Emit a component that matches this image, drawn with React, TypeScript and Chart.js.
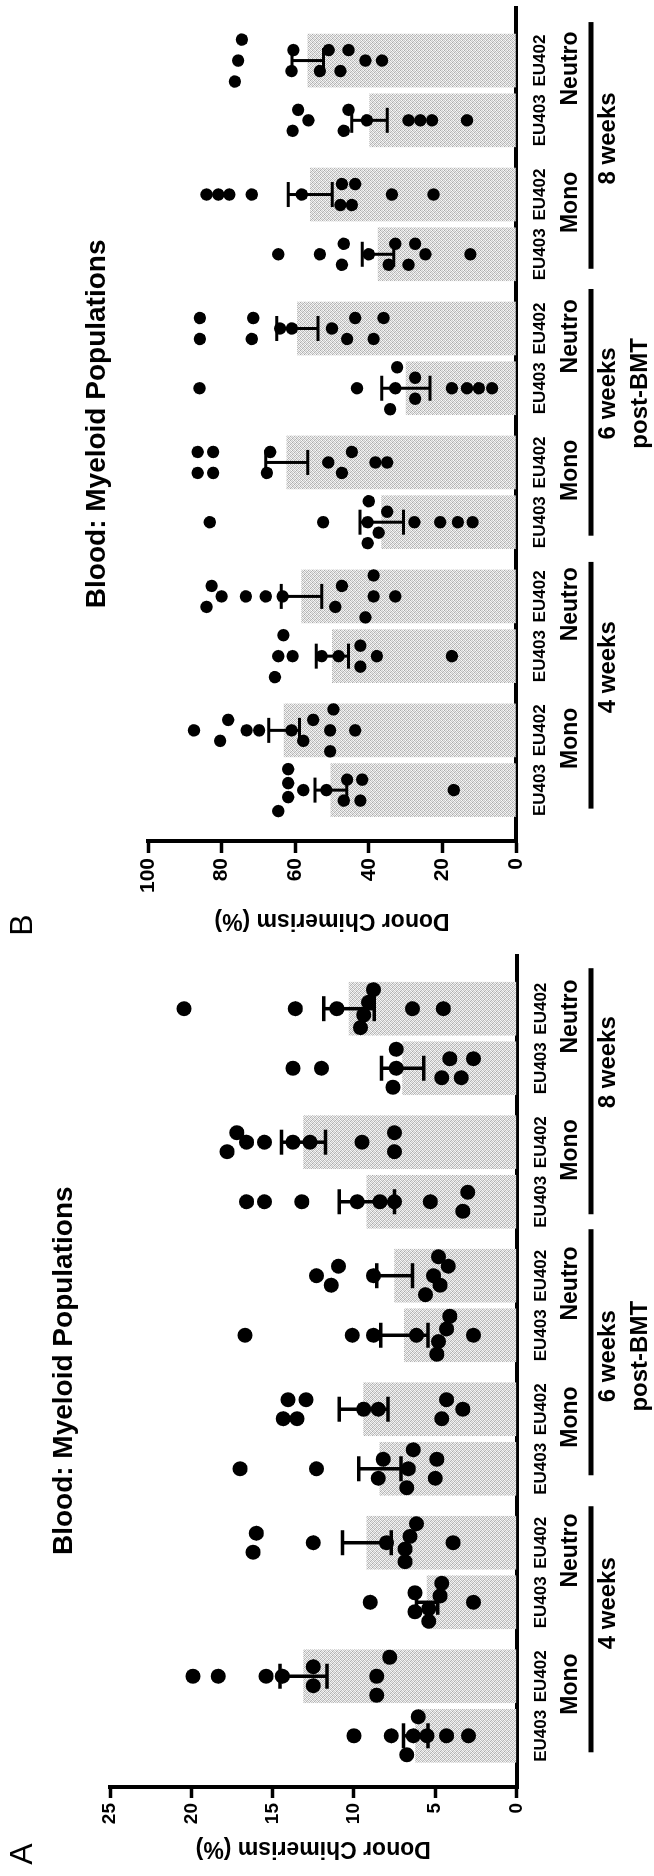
import React, { useEffect, useRef } from 'react';
import { Chart, registerables } from 'chart.js';

Chart.register(...registerables);

const FONT = '"Liberation Sans", Arial, Helvetica, sans-serif';

// ---------- categories & labels ----------
const barLabels = ['EU403', 'EU402', 'EU403', 'EU402', 'EU403', 'EU402', 'EU403', 'EU402', 'EU403', 'EU402', 'EU403', 'EU402'];
const cellLabels = ['Mono', 'Neutro', 'Mono', 'Neutro', 'Mono', 'Neutro'];
const timeLabels = [['4 weeks'], ['6 weeks', 'post-BMT'], ['8 weeks']];
const chartTitle = 'Blood: Myeloid Populations';
const axisTitle = 'Donor Chimerism (%)';

// ---------- panel A data ----------
const aTicks = [0, 5, 10, 15, 20, 25];
const aMeans = [6.2, 13.1, 5.5, 9.2, 8.4, 9.4, 6.9, 7.5, 9.2, 13.1, 7.0, 10.3];
const aSems = [0.75, 1.45, 0.65, 1.5, 1.3, 1.5, 1.45, 1.1, 1.7, 1.35, 1.3, 1.55];
const aPoints = [
  [10.0, 7.7, 6.75, 6.35, 6.05, 5.5, 4.3, 2.95],
  [19.9, 18.35, 15.4, 14.4, 12.5, 12.5, 8.6, 8.6, 7.8],
  [9.0, 6.25, 6.25, 5.4, 5.4, 4.7, 4.6, 2.65],
  [16.2, 16.0, 12.5, 8.0, 6.85, 6.85, 6.55, 6.15, 3.9],
  [17.0, 12.3, 8.5, 8.2, 6.75, 6.65, 6.35, 5.0, 4.9],
  [14.35, 14.05, 13.5, 12.95, 9.4, 8.5, 4.6, 4.3, 3.3],
  [16.7, 10.1, 8.8, 6.15, 4.9, 4.8, 4.3, 4.1, 2.65],
  [12.3, 11.4, 10.95, 8.8, 5.6, 5.1, 4.8, 4.7, 4.2],
  [16.6, 15.5, 13.2, 9.8, 8.4, 7.5, 5.3, 3.3, 3.0],
  [17.8, 17.2, 16.6, 15.5, 13.75, 12.7, 9.5, 7.5, 7.5],
  [13.75, 12.0, 7.6, 7.4, 7.4, 4.6, 4.1, 3.4, 2.65],
  [20.45, 13.6, 11.05, 9.6, 9.4, 9.1, 8.8, 6.4, 4.5],
];

// ---------- panel B data ----------
const bTicks = [0, 20, 40, 60, 80, 100];
const bMeans = [50.3, 63.0, 49.9, 58.3, 36.5, 62.3, 29.9, 59.4, 37.5, 55.9, 39.8, 56.6];
const bSems = [4.3, 4.2, 4.4, 5.5, 5.9, 5.7, 6.55, 5.6, 4.3, 6.0, 4.8, 4.3];
const bPoints = [
  [64.6, 61.9, 61.9, 61.9, 57.8, 51.5, 46.8, 45.9, 42.3, 41.8, 16.9],
  [87.5, 80.4, 78.2, 73.2, 69.8, 61.0, 57.8, 55.1, 50.5, 50.5, 49.6, 43.7],
  [65.5, 64.6, 63.2, 60.7, 52.8, 48.2, 42.3, 42.3, 37.8, 17.4],
  [84.1, 82.7, 80.0, 73.4, 68.0, 63.4, 49.1, 47.3, 40.9, 38.7, 38.7, 32.8],
  [83.2, 52.4, 40.3, 40.3, 40.0, 37.3, 35.0, 27.6, 20.6, 15.8, 11.8],
  [86.5, 86.5, 82.3, 82.3, 67.7, 66.8, 51.0, 47.3, 44.6, 38.2, 35.0],
  [86.0, 43.2, 34.2, 32.8, 32.3, 27.4, 27.4, 17.4, 13.3, 10.1, 6.5],
  [85.9, 85.9, 71.8, 71.4, 64.1, 60.9, 50.0, 45.9, 43.7, 38.7, 36.0],
  [64.6, 53.3, 47.3, 46.8, 40.0, 34.6, 32.8, 29.2, 27.4, 24.6, 12.4],
  [84.1, 80.9, 77.9, 71.8, 58.2, 47.7, 47.3, 44.6, 43.7, 33.7, 22.4],
  [60.7, 59.2, 56.4, 46.8, 45.5, 40.5, 29.2, 26.0, 22.8, 13.3],
  [76.4, 75.5, 74.5, 61.0, 60.5, 53.3, 50.9, 47.7, 45.5, 40.9, 36.4],
];

// ---------- layout ----------
const H = 654;
const PAIR_STEP = 2.242;
const X_MIN = -0.86;
const X_MAX = 13.12;
const BAR_W = 53;
const catPos = (i: number) => Math.floor(i / 2) * PAIR_STEP + (i % 2);

const panelA = {
  letter: 'A', width: 929, ticks: aTicks, means: aMeans, sems: aSems, points: aPoints,
  plotTop: 110, plotLeft: 89, plotRightPad: 7, plotBottom: 516.5,
  tickFont: 19, tickLength: 11, tickPad: 5, titlePad: 14, xLabelPad: 15,
  dotR: 7.5, errW: 3.5, titleV: 64, binPx: 13.5, rowSpacing: 19, maxSpread: 19,
  weekTextShift: [36, 16, 43], weekLineShift: [10, 20, 14],
};
const panelB = {
  letter: 'B', width: 947, ticks: bTicks, means: bMeans, sems: bSems, points: bPoints,
  plotTop: 148, plotLeft: 105.5, plotRightPad: 5, plotBottom: 516,
  tickFont: 21, tickLength: 11.5, tickPad: 5, titlePad: 13, xLabelPad: 14.5,
  dotR: 6.2, errW: 3, titleV: 97, binPx: 11, rowSpacing: 21, maxSpread: 21,
  weekTextShift: [26, 32, 19], weekLineShift: [8, 13, 12],
};

function makePattern(ctx: CanvasRenderingContext2D) {
  const c = document.createElement('canvas');
  c.width = 4; c.height = 4;
  const g = c.getContext('2d')!;
  const shades = [170, 232, 200, 246, 236, 186, 250, 196, 206, 246, 176, 230, 250, 200, 236, 182];
  for (let y = 0; y < 4; y++) for (let x = 0; x < 4; x++) {
    const s = shades[y * 4 + x];
    g.fillStyle = `rgb(${s},${s},${s})`;
    g.fillRect(x, y, 1, 1);
  }
  return ctx.createPattern(c, 'repeat');
}

function swarmOffsets(vals: number[], pxPerVal: number, binPx: number, spacing: number, maxSpread: number) {
  const order = vals.map((_, i) => i).sort((a, b) => vals[b] - vals[a]);
  const off = vals.map(() => 0);
  let k = 0;
  while (k < order.length) {
    const start = vals[order[k]];
    let j = k + 1;
    while (j < order.length && (start - vals[order[j]]) * pxPerVal < binPx) j++;
    const n = j - k;
    const sp = n > 1 ? Math.min(spacing, (2 * maxSpread) / (n - 1)) : 0;
    for (let m = 0; m < n; m++) off[order[k + m]] = (m - (n - 1) / 2) * sp;
    k = j;
  }
  return off;
}

function decor(P: any) {
  return {
    id: 'decor' + P.letter,
    afterDatasetsDraw(chart: any) {
      const { ctx, scales: { x, y } } = chart;
      ctx.save();
      ctx.strokeStyle = '#000';
      ctx.lineWidth = P.errW;
      ctx.lineCap = 'butt';
      P.means.forEach((m: number, i: number) => {
        const px = x.getPixelForValue(catPos(i));
        const hi = y.getPixelForValue(m + P.sems[i]);
        const lo = y.getPixelForValue(m - P.sems[i]);
        ctx.beginPath();
        ctx.moveTo(px, hi); ctx.lineTo(px, lo);
        ctx.moveTo(px - 12.5, hi); ctx.lineTo(px + 12.5, hi);
        ctx.moveTo(px - 12.5, lo); ctx.lineTo(px + 12.5, lo);
        ctx.stroke();
      });
      ctx.restore();
    },
    afterDraw(chart: any) {
      const { ctx, chartArea, scales: { x } } = chart;
      ctx.save();
      ctx.fillStyle = '#000';
      ctx.strokeStyle = '#000';
      ctx.textAlign = 'center';
      ctx.textBaseline = 'middle';
      ctx.font = `32px ${FONT}`;
      ctx.fillText(P.letter, 22, 23);
      ctx.font = `bold 28px ${FONT}`;
      ctx.fillText(chartTitle, (chartArea.left + chartArea.right) / 2, P.titleV);
      ctx.font = `bold 23px ${FONT}`;
      cellLabels.forEach((t, p) => {
        const c = (x.getPixelForValue(catPos(2 * p)) + x.getPixelForValue(catPos(2 * p + 1))) / 2;
        ctx.fillText(t, c + 22, 571);
      });
      timeLabels.forEach((lines, w) => {
        const first = x.getPixelForValue(catPos(4 * w));
        const last = x.getPixelForValue(catPos(4 * w + 3));
        ctx.lineWidth = 5;
        ctx.beginPath();
        ctx.moveTo(first - BAR_W / 2 + P.weekLineShift[w], 591);
        ctx.lineTo(last + BAR_W / 2 + P.weekLineShift[w], 591);
        ctx.stroke();
        ctx.font = `bold 24px ${FONT}`;
        lines.forEach((ln, k) => ctx.fillText(ln, (first + last) / 2 + P.weekTextShift[w], 608 + k * 32));
      });
      ctx.restore();
    },
  };
}

function buildChart(canvas: HTMLCanvasElement, P: any) {
  const ctx = canvas.getContext('2d')!;
  const pattern = makePattern(ctx);
  const cfg: any = {
    type: 'bar',
    data: {
      datasets: [
        { type: 'bar', data: P.means.map((m: number, i: number) => ({ x: catPos(i), y: m })), backgroundColor: pattern, borderWidth: 0, barThickness: BAR_W, order: 2 },
        { type: 'scatter', data: [], pointRadius: P.dotR, pointHoverRadius: P.dotR, pointBackgroundColor: '#000', pointBorderWidth: 0, order: 1 },
      ],
    },
    options: {
      animation: false,
      responsive: false,
      devicePixelRatio: 1,
      events: [],
      layout: { padding: { top: P.plotTop, right: P.plotRightPad, bottom: 0, left: 0 } },
      plugins: { legend: { display: false }, tooltip: { enabled: false }, title: { display: false } },
      scales: {
        x: {
          type: 'linear', min: X_MIN, max: X_MAX, offset: false,
          grid: { display: false, drawTicks: false },
          border: { display: true, color: '#000', width: 4 },
          ticks: {
            autoSkip: false, maxRotation: 0, minRotation: 0, padding: P.xLabelPad, color: '#000',
            font: { family: FONT, size: 17, weight: 'bold', lineHeight: 1.2 },
            callback: (_v: any, i: number) => barLabels[i],
          },
          afterBuildTicks: (s: any) => { s.ticks = barLabels.map((_, i) => ({ value: catPos(i) })); },
          afterFit: (s: any) => { s.height = H - P.plotBottom; },
        },
        y: {
          type: 'linear', min: P.ticks[0], max: P.ticks[P.ticks.length - 1],
          grid: { display: true, drawOnChartArea: false, drawTicks: true, tickLength: P.tickLength, tickWidth: 3.5, tickColor: '#000', color: '#000' },
          border: { display: true, color: '#000', width: 4 },
          ticks: { padding: P.tickPad, color: '#000', font: { family: FONT, size: P.tickFont, weight: 'bold' } },
          afterBuildTicks: (s: any) => { s.ticks = P.ticks.map((v: number) => ({ value: v })); },
          title: {
            display: true, text: axisTitle, color: '#000',
            font: { family: FONT, size: 23, weight: 'bold', lineHeight: 1.2 },
            padding: { top: P.titlePad, bottom: 0 },
          },
          afterFit: (s: any) => { s.width = P.plotLeft; },
        },
      },
    },
    plugins: [decor(P)],
  };
  const chart = new Chart(ctx, cfg);
  const xs: any = chart.scales.x;
  const ys: any = chart.scales.y;
  const pxX = xs.getPixelForValue(1) - xs.getPixelForValue(0);
  const pxY = ys.getPixelForValue(0) - ys.getPixelForValue(1);
  const pts: { x: number; y: number }[] = [];
  P.points.forEach((vals: number[], i: number) => {
    const offs = swarmOffsets(vals, pxY, P.binPx, P.rowSpacing, P.maxSpread);
    vals.forEach((v, k) => pts.push({ x: catPos(i) + offs[k] / pxX, y: v }));
  });
  (chart.data.datasets[1] as any).data = pts;
  chart.update();
  return chart;
}

export default function App() {
  const refA = useRef<HTMLCanvasElement | null>(null);
  const refB = useRef<HTMLCanvasElement | null>(null);

  useEffect(() => {
    const charts: Chart[] = [];
    if (refA.current) charts.push(buildChart(refA.current, panelA));
    if (refB.current) charts.push(buildChart(refB.current, panelB));
    return () => charts.forEach((c) => c.destroy());
  }, []);

  return (
    <div style={{ position: 'absolute', left: 0, top: 0, width: 654, height: 1876, overflow: 'hidden', background: '#fff' }}>
      <div
        style={{
          position: 'absolute', left: 0, top: 0, width: 1876, height: H,
          transformOrigin: '0 0', transform: 'translateY(1876px) rotate(-90deg)',
        }}
      >
        <canvas ref={refA} width={panelA.width} height={H} style={{ position: 'absolute', left: 0, top: 0, width: panelA.width, height: H }} />
        <canvas ref={refB} width={panelB.width} height={H} style={{ position: 'absolute', left: panelA.width, top: 0, width: panelB.width, height: H }} />
      </div>
    </div>
  );
}
